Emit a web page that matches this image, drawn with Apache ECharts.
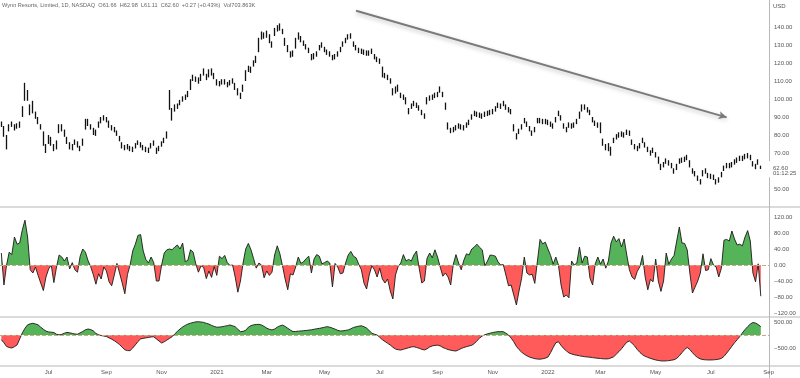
<!DOCTYPE html>
<html><head><meta charset="utf-8">
<script src="https://cdn.jsdelivr.net/npm/echarts@6/dist/echarts.min.js"></script>
<style>html,body{margin:0;padding:0;background:#fff}#c{width:800px;height:378px}</style>
</head><body><div id="c"></div><script>
// ---- data (sampled every 2nd trading day) ----
const startDate = '2020-05-11';
const endDate = '2022-09-06';
const holidays = ['2020-05-25','2020-07-03','2020-09-07','2020-11-26','2020-12-25','2021-01-01','2021-01-18','2021-02-15','2021-04-02','2021-05-31','2021-07-05','2021-09-06','2021-11-25','2021-12-24','2022-01-17','2022-02-21','2022-04-15','2022-05-30','2022-06-20','2022-07-04','2022-09-05'];

const priceLow = [84.5,79,72,82,84.5,82.5,83.5,84,90,99,
99,91,92,89,86,83,74,70,75,74,
71,72,81,82,79,75,72,71.5,74.5,73,
71,74,83,85,83,80,79.5,84,86.5,88,
87,84,82.5,81.5,79.5,76.5,72.5,71.5,72,71,
70.5,72.5,74.5,73,71.5,70.5,70,72.5,74,69.5,
71,73.5,75.5,78,94,88,93,94.5,96.5,98.5,
99.5,101,105,110,109.5,108.5,110,113,110.5,112,
113,111,107.5,107,108,108,106.5,107.5,108.5,105,
102,100,104,110,115,114.5,118,120,126,133,
133.5,134,131,128.5,135,137.5,138,136,129.5,126,
123,123.5,128,133,131.5,129.5,127.5,125.5,121.5,122,
123.5,127,128.5,126,124.5,123.5,121.5,122,123.5,126,
129,131,133,133.5,129,127,125.5,125,124.5,124,
124,125,122,120.5,119.5,112,111.5,110.5,108.5,102,
103,104,100.5,99.5,97,91.5,94.5,96,95,93.5,
91,89,97,99,99.5,100.5,101,103.5,101,94,
83,81,81.5,82.5,83.5,83,82.5,84,85.5,88.5,
90.5,90,89.5,89,90,90.5,91,91.5,93,95,
94.5,96,94,92.5,91.5,82,77.5,80.5,83,86.5,
84.5,82,79.5,81.5,86.5,86.5,86,86,85.5,84.5,
83.5,87,90.5,88,83.5,81.5,84,83.5,84,86,
89,93,94,92.5,91,87,85,84,81,74,
71.5,71,68.5,75.5,77.5,78.5,79,78.5,80,79.5,
74.5,72,71,72.5,75.5,73,70.5,68.5,70,67.5,
64,60.5,62,64,63,61.5,58.5,60.5,64,64.5,
65,66,62,58.5,57,54.5,52.5,57,58.5,56,
55.5,55,52.5,53.5,56.5,60,61.5,61.5,62,63.5,
64.5,65.5,65.5,66.5,67,66,62.5,61,63.5,61.11];

const priceHigh = [87.5,85,80,86,87.5,86,86.5,87.5,96,109,
105,97,99,93,90,86,82,75,80,79,
75,77,86,86,83,79,76,75,77.5,76.5,
74,78,89,89,86,84,83,87.5,90,91,
90,88,85.5,84.5,82.5,79.5,76,74.5,75,74,
73.5,75.5,77,76,74.5,73.5,73,75.5,77,73,
74,76.5,78.5,82,105,95,97,97.5,99.5,101.5,
102.5,104.5,111,113.5,112.5,112,114,117,114,116.5,
117,114.5,111,110,111,111,109.5,110.5,111.5,109,
106,103.5,108,116,118.5,118,121.5,124,134,137.5,
137,138,136,132,139.5,141,142,139,134,130,
126.5,127,134,137,135,132.5,130.5,128.5,125,125.5,
126.5,130,131.5,129,127.5,126.5,124.5,125,126.5,129,
132,134,136,136.5,132,130,128.5,128,127.5,127,
127,128,125,123.5,122.5,118,114.5,113.5,111.5,106,
107,108,103.5,102.5,101,95,97.5,99,98,96.5,
94,92,101,102,102.5,103.5,104,107,104,98,
87,84,84.5,85.5,86.5,86,85.5,87,88.5,91.5,
93.5,93,92.5,92,93,93.5,94,94.5,96,98,
97.5,99,97,95.5,94.5,86,81,83.5,86,89.5,
87.5,85,82.5,84.5,89.5,89.5,89,89,88.5,87.5,
86.5,90,93.5,91,86.5,84.5,87,86.5,87,89,
93,97,97,95.5,94,90,88,87,87,78,
75,75.5,73.5,78.5,80.5,81.5,82,81.5,83,82.5,
77.5,75,74,75.5,78.5,76,73.5,71.5,73,70.5,
68,64,65,67,66,64.5,61.5,64,67,67.5,
68,69,66,61.5,60,57.5,55.5,60.5,61.5,59,
58.5,58,55.5,56.5,59.5,63,64.5,64.5,65,66.5,
67.5,68.5,68.5,69.5,70,69,65.5,64,66.5,62.98];

const cciValues = [30,-50,0,32,26,70,52,55,88,112,
70,-12,-20,-5,-26,-45,-64,-30,-10,0,
-44,-5,25,20,10,20,-10,6,-12,-18,
22,40,32,11,-4,-24,-48,-22,-35,-5,
-15,-42,-52,-25,4,-20,-45,-72,-24,0,
35,52,74,76,35,14,5,20,6,-40,
-40,0,30,38,40,38,45,50,40,55,
8,12,38,32,3,-18,-2,-6,-34,-15,
-31,-4,-26,22,16,24,6,-1,0,-30,
-68,-40,5,40,54,38,16,-8,5,0,
-32,-15,-26,-18,25,48,28,-2,-35,-62,
-22,-25,-5,20,4,8,16,22,-20,15,
26,22,3,6,10,5,-55,4,-5,-22,
-20,5,25,34,22,18,2,-12,-45,-60,
-25,-2,-12,-30,-8,-35,-45,-35,-65,-85,
-25,-4,5,26,10,14,10,25,35,-8,
-45,-40,17,30,18,38,20,-5,-28,-20,
-30,-50,2,26,5,-12,12,28,25,40,
45,52,44,38,-2,10,25,24,22,8,
0,1,-25,-52,-50,-75,-100,-65,-33,20,
-20,-25,-23,-46,10,64,53,57,40,24,
2,20,0,-50,-80,-75,-82,10,0,5,
45,5,22,20,-33,-50,3,20,2,15,
-8,10,55,72,58,66,45,65,25,-12,
-30,-36,-16,-4,24,-30,-62,-36,-42,15,
-40,-66,-40,30,2,15,24,60,95,55,
54,38,-20,-70,-55,-40,-20,28,-14,-12,
16,0,-5,-30,-8,62,64,60,85,65,
50,52,48,70,86,60,-20,-42,3,-78];

const oscValues = [-180,-300,-440,-480,-500,-450,-380,-150,80,260,
390,430,450,425,390,300,220,150,120,108,
95,30,5,25,70,100,85,62,40,30,
85,135,200,230,210,160,60,10,-20,-40,
-60,-110,-160,-220,-290,-370,-470,-570,-600,-600,
-500,-380,-250,-150,-130,-110,-95,-75,-70,-150,
-230,-310,-260,-195,-130,-64,40,140,230,310,
370,420,455,480,505,510,500,485,450,420,
370,330,300,305,318,340,360,385,355,320,
220,130,140,180,300,360,390,405,410,385,
330,265,220,195,230,300,350,380,330,260,
190,130,135,148,155,165,175,188,200,220,
240,255,275,300,320,300,265,225,180,155,
160,178,195,240,290,315,340,355,320,265,
170,70,30,0,-90,-180,-250,-320,-385,-470,
-540,-565,-580,-550,-520,-490,-460,-450,-480,-510,
-550,-575,-530,-460,-420,-400,-390,-420,-480,-520,
-560,-585,-605,-615,-570,-520,-480,-450,-420,-395,
-330,-220,-120,-40,10,45,70,95,115,128,
130,128,70,0,-120,-260,-440,-560,-660,-740,
-800,-850,-880,-910,-925,-930,-915,-890,-850,-680,
-480,-300,-260,-400,-520,-610,-690,-730,-760,-780,
-800,-820,-835,-845,-855,-870,-885,-895,-905,-915,
-920,-915,-880,-840,-740,-640,-530,-400,-280,-230,
-320,-420,-560,-670,-760,-820,-860,-900,-930,-960,
-980,-995,-1000,-995,-985,-970,-950,-900,-800,-680,
-560,-480,-560,-680,-790,-870,-920,-945,-955,-960,
-960,-955,-945,-930,-900,-820,-700,-570,-430,-300,
-180,-60,80,210,320,420,480,460,400,320];

const priceTicks = [50,70,80,90,100,110,120,130,140]; // 60 is covered by the last-price label
const cciTicks = [-120,-80,-40,0,40,80,120];
const oscTicks = [-500,500];
const xTickMonths = ['2020-07','2020-09','2020-11','2021-01','2021-03','2021-05','2021-07','2021-09','2021-11','2022-01','2022-03','2022-05','2022-07','2022-09'];
const xTickLabels = ['Jul','Sep','Nov','2021','Mar','May','Jul','Sep','Nov','2022','Mar','May','Jul','Sep'];
const headerText = 'Wynn Resorts, Limited, 1D, NASDAQ  O61.66  H62.98  L61.11  C62.60  +0.27 (+0.43%)  Vol703.863K';
const lastClose = 62.60;
const countdown = '01:12:25';
// trend arrow: [category index, price]
const trendFrom = [135, 149];
const trendTo = [276, 89.8];

// ---- categories: trading days, every 2nd one ----
function buildCategories() {
  const out = [];
  let t = Date.parse(startDate + 'T00:00:00Z');
  const end = Date.parse(endDate + 'T00:00:00Z');
  let i = 0;
  while (t <= end) {
    const d = new Date(t);
    const wd = d.getUTCDay();
    const s = d.toISOString().slice(0, 10);
    if (wd !== 0 && wd !== 6 && holidays.indexOf(s) < 0) {
      if (i % 2 === 0) out.push(s);
      i++;
    }
    t += 86400000;
  }
  return out;
}
const categories = buildCategories();

const FONT = '"Liberation Sans", Arial, sans-serif';
const TXT = '#555';
const FS = 6;
const GREEN = '#4caf50', RED = '#ff5252';
const fmt = v => (v < 0 ? '\u2212' : '') + Math.abs(v).toFixed(2);

const chart = echarts.init(document.getElementById('c'), null, {renderer: 'canvas'});

const gridBase = {left: 0, right: 30, containLabel: false, outerBoundsMode: 'none'};
const xAxes = [0, 1, 2, 3].map(i => ({
  type: 'category', gridIndex: i, data: categories, boundaryGap: true,
  axisLine: {show: false}, axisTick: {show: false}, splitLine: {show: false},
  axisLabel: i === 3 ? {
    show: true, margin: 3, color: TXT, fontSize: FS, fontFamily: FONT,
    interval: (idx, val) => {
      const m = String(val).slice(0, 7);
      if (xTickMonths.indexOf(m) < 0) return false;
      return idx === 0 || categories[idx - 1].slice(0, 7) !== m;
    },
    formatter: val => xTickLabels[xTickMonths.indexOf(String(val).slice(0, 7))] || ''
  } : {show: false}
}));

const yLabel = (list, f) => ({
  show: true, margin: 4, align: 'left', color: TXT, fontSize: FS, fontFamily: FONT,
  formatter: v => list.indexOf(v) >= 0 ? f(v) : ''
});

const decorations = [
  {type: 'line', shape: {x1: 0, y1: 207, x2: 800, y2: 207}, style: {stroke: '#cfcfcf', lineWidth: 1.5}, silent: true},
  {type: 'line', shape: {x1: 0, y1: 317, x2: 800, y2: 317}, style: {stroke: '#cfcfcf', lineWidth: 1.5}, silent: true},
  {type: 'line', shape: {x1: 0, y1: 366, x2: 800, y2: 366}, style: {stroke: '#cfcfcf', lineWidth: 1.5}, silent: true},
  {type: 'line', shape: {x1: 769.5, y1: 0, x2: 769.5, y2: 378}, style: {stroke: '#b8b8b8', lineWidth: 1}, silent: true},
  {type: 'text', left: 773, top: 3, style: {text: 'USD', fill: TXT, fontSize: FS, fontFamily: FONT}, silent: true}
];

const option = {
  animation: false,
  backgroundColor: '#fff',
  title: {text: headerText, left: 2, top: 2, padding: 0,
    textStyle: {fontSize: 5.6, fontWeight: 'normal', color: '#666', fontFamily: FONT}},
  grid: [
    Object.assign({top: 0, height: 207}, gridBase),
    Object.assign({top: 201, height: 128}, gridBase),
    Object.assign({top: 309, height: 65}, gridBase),
    Object.assign({top: 0, height: 366}, gridBase)
  ],
  xAxis: xAxes,
  yAxis: [
    {type: 'value', gridIndex: 0, position: 'right', min: 40, max: 155, interval: 10,
      axisLine: {show: false}, axisTick: {show: false}, splitLine: {show: false},
      axisLabel: yLabel(priceTicks, v => v.toFixed(2))},
    {type: 'value', gridIndex: 1, position: 'right', min: -160, max: 160, interval: 40,
      axisLine: {show: false}, axisTick: {show: false}, splitLine: {show: false},
      axisLabel: yLabel(cciTicks, fmt)},
    {type: 'value', gridIndex: 2, position: 'right', min: -1500, max: 1000, interval: 500,
      axisLine: {show: false}, axisTick: {show: false}, splitLine: {show: false},
      axisLabel: yLabel(oscTicks, fmt)},
    {type: 'value', gridIndex: 3, show: false}
  ],
  visualMap: [
    {type: 'piecewise', show: false, seriesIndex: 1, dimension: 1,
      pieces: [{gte: 0, lte: 160, color: GREEN}, {gte: -160, lt: 0, color: RED}]},
    {type: 'piecewise', show: false, seriesIndex: 2, dimension: 1,
      pieces: [{gte: 0, lte: 1000, color: GREEN}, {gte: -1500, lt: 0, color: RED}]}
  ],
  series: [
    {type: 'candlestick', xAxisIndex: 0, yAxisIndex: 0,
      data: priceLow.map((l, i) => [l, priceHigh[i], l, priceHigh[i]]),
      barWidth: 1.1,
      itemStyle: {color: '#111', color0: '#111', borderColor: '#111', borderColor0: '#111', borderWidth: 1.3},
      markLine: {silent: true, symbol: ['none', 'arrow'], symbolSize: [6, 8],
        label: {show: false},
        lineStyle: {color: '#7a7a7a', width: 2, type: 'solid',
          shadowColor: 'rgba(0,0,0,0.25)', shadowBlur: 4, shadowOffsetY: 2},
        data: [[{coord: [categories[trendFrom[0]], trendFrom[1]]}, {coord: [categories[trendTo[0]], trendTo[1]]}]]}
    },
    {type: 'line', xAxisIndex: 1, yAxisIndex: 1, data: cciValues, symbol: 'none',
      lineStyle: {color: '#1a1a1a', width: 0.9}, areaStyle: {opacity: 0.95},
      markLine: {silent: true, symbol: 'none', label: {show: false},
        lineStyle: {color: '#c4ad85', width: 1, type: 'dashed'}, data: [{yAxis: 0}]}
    },
    {type: 'line', xAxisIndex: 2, yAxisIndex: 2, data: oscValues, symbol: 'none',
      lineStyle: {color: '#1a1a1a', width: 0.9}, areaStyle: {opacity: 0.95},
      markLine: {silent: true, symbol: 'none', label: {show: false},
        lineStyle: {color: '#c4ad85', width: 1, type: 'dashed'}, data: [{yAxis: 0}]}
    }
  ],
  graphic: decorations
};
chart.setOption(option);

// last-price label placed through the price axis scale
const yLast = chart.convertToPixel({yAxisIndex: 0}, lastClose);
chart.setOption({graphic: decorations.concat([
  {type: 'rect', shape: {x: 767, y: yLast - 5, width: 33, height: 16}, style: {fill: '#fff'}, silent: true, z: 10},
  {type: 'text', x: 773, y: yLast + 4.5, silent: true, z: 11,
    style: {text: lastClose.toFixed(2) + '\n' + countdown, fill: TXT, fontSize: FS, lineHeight: 5.5,
      fontFamily: FONT, verticalAlign: 'middle', align: 'left'}}
])});
</script></body></html>
